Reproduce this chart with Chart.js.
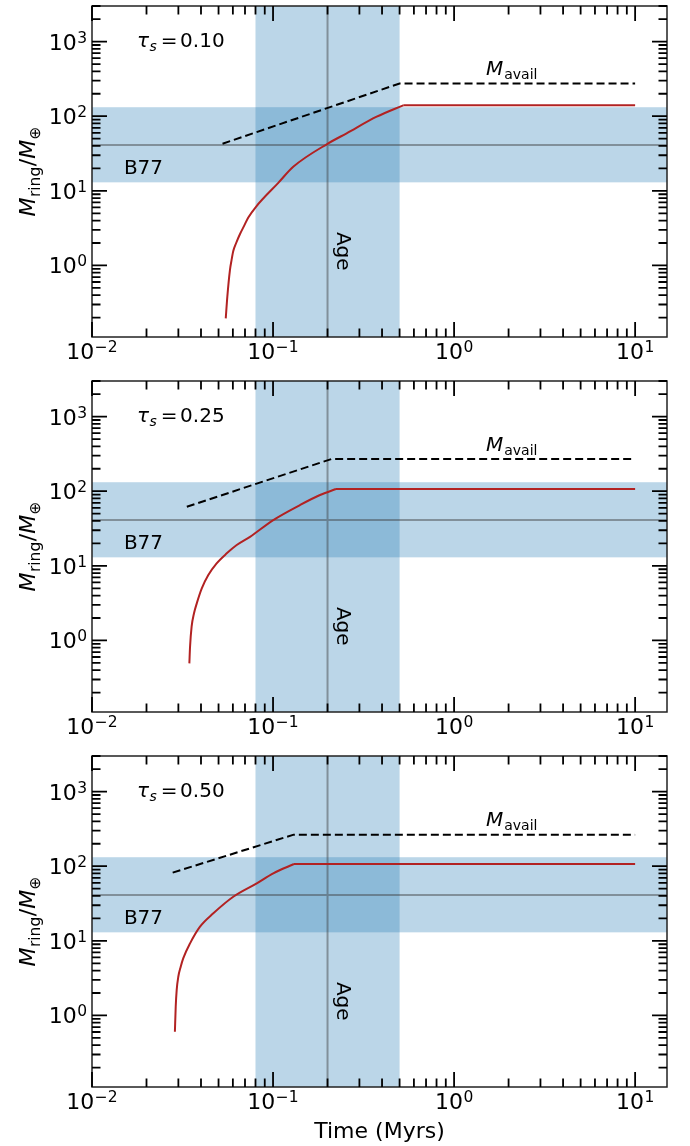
<!DOCTYPE html>
<html>
<head>
<meta charset="utf-8">
<script src="https://cdn.jsdelivr.net/npm/chart.js@4.4.1/dist/chart.umd.min.js"></script>
<style>
  html, body { margin: 0; padding: 0; background: #fff; }
  #wrap { position: relative; width: 690px; height: 1146px; }
  canvas { position: absolute; left: 0; }
</style>
</head>
<body>
<div id="wrap">
  <canvas id="panel1" width="690" height="375" style="top:0px"></canvas>
  <canvas id="panel2" width="690" height="375" style="top:375px"></canvas>
  <canvas id="panel3" width="690" height="396" style="top:750px"></canvas>
</div>
<script>
// stopping time of each panel
const stoppingTimes = ['0.10', '0.25', '0.50'];

// ring mass (Earth masses) vs time (Myr); last point is the end of the run
const ringTime1 = [0.0548, 0.0559, 0.0578, 0.0590, 0.0603, 0.0624, 0.0657, 0.0691, 0.0730, 0.0805, 0.1069, 0.1293, 0.2019, 0.255, 0.3737, 0.524, 10];
const ringMass1 = [0.195, 0.380, 0.868, 1.18, 1.56, 1.97, 2.64, 3.37, 4.39, 6.12, 12.8, 21.0, 43.3, 59.0, 98.5, 140, 140];
const ringTime2 = [0.0345, 0.0348, 0.0355, 0.0366, 0.0379, 0.0404, 0.0439, 0.0488, 0.0555, 0.0630, 0.0746, 0.1003, 0.1409, 0.1817, 0.2227, 10];
const ringMass2 = [0.493, 0.823, 1.53, 2.31, 3.14, 4.99, 7.53, 10.8, 14.7, 19.0, 24.5, 41.1, 65.3, 88.9, 107, 107];
const ringTime3 = [0.0287, 0.0290, 0.02936, 0.02997, 0.0309, 0.0319, 0.0348, 0.0395, 0.0468, 0.0603, 0.0813, 0.1003, 0.1305, 10];
const ringMass3 = [0.605, 1.31, 2.19, 3.30, 4.50, 5.83, 9.26, 15.5, 23.4, 39.0, 59.0, 80.3, 107, 107];

// available mass (dashed)
const availTime1 = [0.0526, 0.5, 10];
const availMass1 = [42.8, 275, 275];
const availTime2 = [0.0334, 0.21, 10];
const availMass2 = [62, 270, 270];
const availTime3 = [0.0279, 0.13, 10];
const availMass3 = [82, 265, 265];

// shaded references
const ageRange = [0.08, 0.5];
const ageValue = 0.2;
const b77Range = [13, 132];
const b77Value = 41;

// axes
const X_MIN = 0.01, X_MAX = 15;
const Y_MIN = 0.11, Y_MAX = 3000;
const xTickExps = [-2, -1, 0, 1];
const yTickExps = [0, 1, 2, 3];

const FONT = '"DejaVu Sans", "Liberation Sans", sans-serif';
function font(size, italic) {
    return (italic ? 'italic ' : '') + size + 'px ' + FONT;
}

function richWidth(ctx, parts) {
    let w = 0;
    parts.forEach(function (p) {
        ctx.font = font(p.size, p.italic);
        w += (p.gap || 0) + ctx.measureText(p.text).width;
    });
    return w;
}

function drawRich(ctx, parts, x, y, align) {
    const w = richWidth(ctx, parts);
    let cx = align === 'center' ? x - w / 2 : (align === 'right' ? x - w : x);
    ctx.textAlign = 'left';
    ctx.textBaseline = 'alphabetic';
    parts.forEach(function (p) {
        ctx.font = font(p.size, p.italic);
        cx += p.gap || 0;
        ctx.fillText(p.text, cx, y + (p.dy || 0));
        cx += ctx.measureText(p.text).width;
    });
}

function powParts(exp) {
    return [
        { text: '10', size: 22 },
        { text: (exp < 0 ? '\u2212' : '') + Math.abs(exp), size: 15.5, dy: -7, gap: 0.5 }
    ];
}

function logTicks(min, max) {
    const out = [];
    for (let e = Math.floor(Math.log10(min)); e <= Math.ceil(Math.log10(max)); e++) {
        for (let m = 1; m <= 9; m++) {
            const v = Number((m * Math.pow(10, e)).toPrecision(6));
            if (v >= min * 0.999 && v <= max * 1.001) out.push({ v: v, major: m === 1 });
        }
    }
    return out;
}

const bandsPlugin = {
    id: 'bands',
    beforeDatasetsDraw(chart) {
        const { ctx, chartArea: a, scales: { x, y } } = chart;
        ctx.save();
        ctx.fillStyle = 'rgba(31,119,180,0.3)';
        const x0 = x.getPixelForValue(ageRange[0]), x1 = x.getPixelForValue(ageRange[1]);
        ctx.fillRect(x0, a.top, x1 - x0, a.bottom - a.top);
        const y0 = y.getPixelForValue(b77Range[1]), y1 = y.getPixelForValue(b77Range[0]);
        ctx.fillRect(a.left, y0, a.right - a.left, y1 - y0);

        ctx.strokeStyle = 'rgba(60,60,60,0.45)';
        ctx.lineWidth = 2;
        ctx.beginPath();
        const ax = x.getPixelForValue(ageValue);
        ctx.moveTo(ax, a.top);
        ctx.lineTo(ax, a.bottom);
        const by = y.getPixelForValue(b77Value);
        ctx.moveTo(a.left, by);
        ctx.lineTo(a.right, by);
        ctx.stroke();
        ctx.restore();
    }
};

const axesPlugin = {
    id: 'axes',
    afterDraw(chart, args, opts) {
        const { ctx, chartArea: a, scales: { x, y } } = chart;
        ctx.save();

        // annotations
        ctx.fillStyle = '#000';
        drawRich(ctx, [{ text: 'B77', size: 20 }], x.getPixelForValue(0.015), y.getPixelForValue(17), 'left');

        ctx.save();
        ctx.translate(x.getPixelForValue(ageValue) + 9, y.getPixelForValue(1.55));
        ctx.rotate(Math.PI / 2);
        ctx.font = font(20);
        ctx.textAlign = 'center';
        ctx.textBaseline = 'alphabetic';
        ctx.fillText('Age', 0, 0);
        ctx.restore();

        const availData = chart.data.datasets[0].data;
        const level = availData[availData.length - 1].y;
        drawRich(ctx, [
            { text: 'M', size: 20, italic: true },
            { text: 'avail', size: 14, dy: 4, gap: 1 }
        ], x.getPixelForValue(1.5), y.getPixelForValue(level) - 8.5, 'left');

        drawRich(ctx, [
            { text: '\u03c4', size: 20, italic: true },
            { text: 's', size: 14, italic: true, dy: 4, gap: 0.5 },
            { text: '=', size: 20, gap: 4 },
            { text: opts.tau, size: 20, gap: 2.5 }
        ], a.left + 45, a.top + 41, 'left');

        // frame
        ctx.strokeStyle = '#222';
        ctx.lineWidth = 1.5;
        ctx.strokeRect(a.left, a.top, a.right - a.left, a.bottom - a.top);

        // inward ticks on all sides
        ctx.strokeStyle = '#000';
        ctx.lineWidth = 1.8;
        ctx.beginPath();
        logTicks(X_MIN, X_MAX).forEach(function (t) {
            const px = x.getPixelForValue(t.v), len = t.major ? 15 : 8.5;
            ctx.moveTo(px, a.bottom);
            ctx.lineTo(px, a.bottom - len);
            ctx.moveTo(px, a.top);
            ctx.lineTo(px, a.top + len);
        });
        logTicks(Y_MIN, Y_MAX).forEach(function (t) {
            const py = y.getPixelForValue(t.v), len = t.major ? 15 : 8.5;
            ctx.moveTo(a.left, py);
            ctx.lineTo(a.left + len, py);
            ctx.moveTo(a.right, py);
            ctx.lineTo(a.right - len, py);
        });
        ctx.stroke();

        // tick labels
        ctx.fillStyle = '#000';
        xTickExps.forEach(function (e) {
            drawRich(ctx, powParts(e), x.getPixelForValue(Math.pow(10, e)), a.bottom + 22, 'center');
        });
        yTickExps.forEach(function (e) {
            drawRich(ctx, powParts(e), a.left - 5, y.getPixelForValue(Math.pow(10, e)) + 8, 'right');
        });

        // y title
        ctx.save();
        ctx.translate(35, (a.top + a.bottom) / 2);
        ctx.rotate(-Math.PI / 2);
        drawRich(ctx, [
            { text: 'M', size: 22, italic: true },
            { text: 'ring', size: 15.5, dy: 4.5, gap: 0.5 },
            { text: '/', size: 22, gap: 0.5 },
            { text: 'M', size: 22, italic: true },
            { text: '\u2295', size: 15.5, dy: 4.5, gap: 0.5 }
        ], 0, 0, 'center');
        ctx.restore();

        if (opts.xTitle) {
            drawRich(ctx, [{ text: 'Time (Myrs)', size: 22 }], (a.left + a.right) / 2, a.bottom + 51, 'center');
        }
        ctx.restore();
    }
};

function makePanel(id, ringTime, ringMass, availTime, availMass, tau, xTitle, canvasHeight) {
    const n = ringTime.length;
    const curve = ringTime.slice(0, n - 1).map(function (t, i) { return { x: t, y: ringMass[i] }; });
    const plateau = ringTime.slice(n - 2).map(function (t, i) { return { x: t, y: ringMass[n - 2 + i] }; });
    const avail = availTime.map(function (t, i) { return { x: t, y: availMass[i] }; });

    return new Chart(document.getElementById(id), {
        type: 'line',
        data: {
            datasets: [
                {
                    data: avail,
                    borderColor: '#000',
                    borderWidth: 2,
                    borderDash: [8, 4],
                    pointRadius: 0,
                    tension: 0,
                    fill: false
                },
                {
                    data: curve,
                    borderColor: '#b22222',
                    borderWidth: 2,
                    pointRadius: 0,
                    cubicInterpolationMode: 'monotone',
                    fill: false
                },
                {
                    data: plateau,
                    borderColor: '#b22222',
                    borderWidth: 2,
                    pointRadius: 0,
                    tension: 0,
                    fill: false
                }
            ]
        },
        options: {
            responsive: false,
            animation: false,
            events: [],
            layout: {
                padding: { left: 92, top: 6, right: 23, bottom: canvasHeight - 337 }
            },
            scales: {
                x: { type: 'logarithmic', min: X_MIN, max: X_MAX, bounds: 'data', display: false },
                y: { type: 'logarithmic', min: Y_MIN, max: Y_MAX, bounds: 'data', display: false }
            },
            plugins: {
                legend: { display: false },
                tooltip: { enabled: false },
                axes: { tau: tau, xTitle: xTitle }
            }
        },
        plugins: [bandsPlugin, axesPlugin]
    });
}

makePanel('panel1', ringTime1, ringMass1, availTime1, availMass1, stoppingTimes[0], false, 375);
makePanel('panel2', ringTime2, ringMass2, availTime2, availMass2, stoppingTimes[1], false, 375);
makePanel('panel3', ringTime3, ringMass3, availTime3, availMass3, stoppingTimes[2], true, 396);
</script>
</body>
</html>
